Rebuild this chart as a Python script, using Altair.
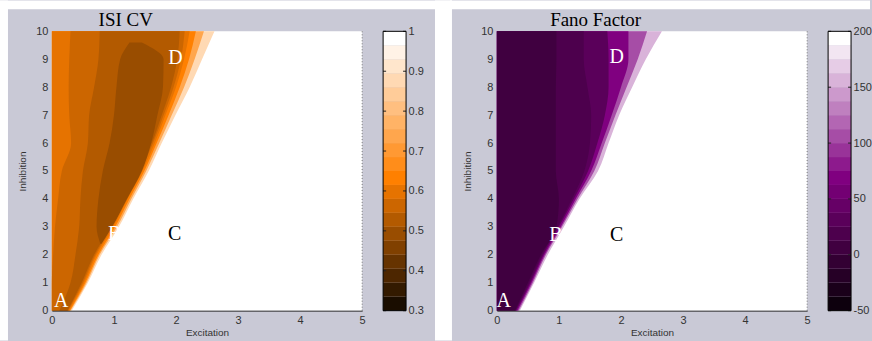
import altair as alt
import pandas as pd

# ---------------- data ----------------
inhibition = [0, 1, 2, 3, 4, 5, 6, 7, 8, 9, 10]
plot_left = [0, 0, 0, 0, 0, 0, 0, 0, 0, 0, 0]

# ISI CV: excitation value of each contour boundary at each inhibition level
isi_white_edge = [0.32, 0.58, 0.80, 1.08, 1.31, 1.56, 1.77, 1.99, 2.22, 2.42, 2.62]
isi_pale_edge = [0.30, 0.56, 0.77, 1.05, 1.28, 1.52, 1.73, 1.93, 2.13, 2.30, 2.45]
isi_orange_edge = [0.29, 0.54, 0.75, 1.02, 1.25, 1.49, 1.69, 1.88, 2.06, 2.21, 2.32]
isi_060_edge = [0.27, 0.52, 0.72, 0.99, 1.22, 1.46, 1.66, 1.83, 2.00, 2.13, 2.22]
isi_056_left = [0.00, 0.00, 0.02, 0.05, 0.10, 0.16, 0.31, 0.28, 0.27, 0.28, 0.30]
isi_056_right = [0.26, 0.50, 0.70, 0.97, 1.20, 1.43, 1.63, 1.80, 1.96, 2.08, 2.14]
isi_053_left = [0.12, 0.30, 0.38, 0.44, 0.46, 0.50, 0.58, 0.60, 0.68, 0.75, 0.77]
isi_053_right = [0.25, 0.48, 0.68, 0.95, 1.18, 1.41, 1.61, 1.77, 1.92, 2.02, 2.06]
isi_core_inh = [2.4, 3, 4, 5, 6, 7, 8, 9, 9.6]
isi_core_left = [0.78, 0.72, 0.75, 0.82, 0.93, 1.00, 1.04, 1.10, 1.25]
isi_core_right = [0.80, 0.97, 1.21, 1.45, 1.60, 1.70, 1.79, 1.80, 1.45]

# Fano factor boundaries
fano_white_edge = [0.37, 0.60, 0.82, 1.08, 1.33, 1.63, 1.80, 1.97, 2.18, 2.40, 2.66]
fano_pink_edge = [0.35, 0.58, 0.79, 1.05, 1.30, 1.57, 1.74, 1.91, 2.09, 2.27, 2.42]
fano_purple_edge = [0.33, 0.56, 0.77, 1.03, 1.27, 1.52, 1.69, 1.85, 2.00, 2.12, 2.12]
fano_mid_edge = [0.31, 0.54, 0.75, 1.00, 1.24, 1.47, 1.62, 1.74, 1.80, 1.80, 1.78]
fano_dim_edge = [0.30, 0.52, 0.73, 0.98, 1.21, 1.41, 1.50, 1.52, 1.46, 1.40, 1.40]
fano_dark_edge = [0.29, 0.50, 0.71, 0.96, 1.00, 0.95, 0.95, 0.95, 0.95, 0.96, 0.96]

# region letters
isi_white_letters = ["A", "B", "D"]
isi_white_x = [0.15, 1.01, 1.99]
isi_white_y = [0.36, 2.75, 9.05]
isi_black_letters = ["C"]
isi_black_x = [1.98]
isi_black_y = [2.75]

fano_white_letters = ["A", "B", "D"]
fano_white_x = [0.11, 0.95, 1.93]
fano_white_y = [0.36, 2.72, 9.08]
fano_black_letters = ["C"]
fano_black_x = [1.93]
fano_black_y = [2.72]

# axes ticks
excitation_ticks = [0, 1, 2, 3, 4, 5]
inhibition_ticks = [0, 1, 2, 3, 4, 5, 6, 7, 8, 9, 10]

# colour bars
isi_cb_edges = [0.3, 0.335, 0.37, 0.405, 0.44, 0.475, 0.51, 0.545, 0.58, 0.615, 0.65,
                0.685, 0.72, 0.755, 0.79, 0.825, 0.86, 0.895, 0.93, 0.965, 1.0]
isi_cb_ticks = [0.3, 0.4, 0.5, 0.6, 0.7, 0.8, 0.9, 1.0]
fano_cb_edges = [-50, -37.5, -25, -12.5, 0, 12.5, 25, 37.5, 50, 62.5, 75,
                 87.5, 100, 112.5, 125, 137.5, 150, 162.5, 175, 187.5, 200]
fano_cb_ticks = [-50, 0, 50, 100, 150, 200]

# ---------------- style ----------------
ISI_PALETTE = ["#1a0d00", "#331a00", "#4d2600", "#663300", "#804000", "#994d00",
               "#b35a00", "#cc6600", "#e67300", "#ff8000", "#ff8d1a", "#ff9933",
               "#ffa64d", "#ffb366", "#ffbf80", "#ffcc99", "#ffd9b3", "#ffe6cc",
               "#fff2e6", "#ffffff"]
FANO_PALETTE = ["#0d000d", "#1a001a", "#260026", "#330033", "#400040", "#4d004d",
                "#5a005a", "#660066", "#730073", "#800080", "#8d1a8d", "#993399",
                "#a64da6", "#b366b3", "#bf80bf", "#cc99cc", "#d9b3d9", "#e6cce6",
                "#f2e6f2", "#ffffff"]
GREY = "#c9c9d6"
FONT = "Liberation Sans"
SERIF = "Liberation Serif"
W, H = 311, 280

one = pd.DataFrame({"k": [0]})
xs = alt.Scale(domain=[0, 5], nice=False, zero=False)
ys = alt.Scale(domain=[0, 10], nice=False, zero=False)

x_axis = alt.Axis(title="Excitation", values=excitation_ticks, ticks=False, grid=False,
                  labelPadding=4, titlePadding=2, domainColor="#333333", domainWidth=1,
                  labelFontSize=11, titleFontSize=10, labelFlush=False, zindex=1,
                  labelExpr="'' + datum.value")
y_axis = alt.Axis(title="Inhibition", values=inhibition_ticks, ticks=False, grid=False,
                  domain=False, labelPadding=4, titlePadding=8, labelFontSize=11,
                  titleFontSize=10, labelFlush=False, zindex=1, labelExpr="'' + datum.value")


def band_layer(inh, left, right, color):
    df = pd.DataFrame({"inh": inh, "lo": left, "hi": right})
    return alt.Chart(df).mark_area(color=color, orient="horizontal", interpolate="monotone",
                                   opacity=1).encode(
        y=alt.Y("inh:Q", scale=ys, axis=y_axis),
        x=alt.X("lo:Q", scale=xs, stack=None, axis=x_axis),
        x2="hi:Q",
    )


def letters_layer(labels, lx, ly, color):
    df = pd.DataFrame({"t": labels, "ex": lx, "inh": ly})
    return alt.Chart(df).mark_text(font=SERIF, fontSize=20, color=color, align="center",
                                   baseline="middle").encode(
        x=alt.X("ex:Q", scale=xs, axis=x_axis),
        y=alt.Y("inh:Q", scale=ys, axis=y_axis),
        text="t:N")


def colorbar(edges, palette, ticks, key):
    df = pd.DataFrame({"lo": edges[:-1], "hi": edges[1:], key: list(range(len(palette)))})
    ysc = alt.Scale(domain=[edges[0], edges[-1]], nice=False, zero=False)
    cb_axis = alt.Axis(orient="right", offset=44, values=ticks, ticks=False, domain=False,
                       grid=False, labelPadding=2, title=None, labelFontSize=11,
                       labelExpr="'' + datum.value", labelFlush=False, zindex=1)
    rects = alt.Chart(df).mark_rect(strokeWidth=0).encode(
        x=alt.value(332), x2=alt.value(355),
        y=alt.Y("lo:Q", scale=ysc, axis=cb_axis),
        y2="hi:Q",
        color=alt.Color(f"{key}:O", scale=alt.Scale(domain=list(range(len(palette))), range=palette),
                        legend=None),
    )
    tdf = pd.DataFrame({"v": ticks})
    tl = alt.Chart(tdf).mark_rule(color="#222222", strokeWidth=1).encode(
        x=alt.value(332), x2=alt.value(335), y=alt.Y("v:Q", scale=ysc, axis=cb_axis))
    tr = alt.Chart(tdf).mark_rule(color="#222222", strokeWidth=1).encode(
        x=alt.value(352), x2=alt.value(355), y=alt.Y("v:Q", scale=ysc, axis=cb_axis))
    border = alt.Chart(one).mark_rect(fillOpacity=0, stroke="black", strokeWidth=1).encode(
        x=alt.value(332), x2=alt.value(355), y=alt.value(0), y2=alt.value(H))
    return alt.layer(rects, tl, tr, border)


def white_strip(x1, x2, y1, y2):
    return alt.Chart(one).mark_rect(color="white").encode(
        x=alt.value(x1), x2=alt.value(x2), y=alt.value(y1), y2=alt.value(y2))


def panel(title, title_x, strips, bands, wl, bl, cb):
    ttl = alt.Chart(one).mark_text(text=title, font=SERIF, fontSize=19, color="black",
                                   align="center", baseline="alphabetic").encode(
        x=alt.value(title_x), y=alt.value(-5))
    edge = alt.Chart(one).mark_rule(color="#777777", strokeDash=[1, 2]).encode(
        x=alt.value(W), y=alt.value(0), y2=alt.value(H))
    layers = [white_strip(*s) for s in strips] + [band_layer(*b) for b in bands] + [
        edge, ttl,
        letters_layer(*wl, "white"),
        letters_layer(*bl, "black"),
    ]
    main = alt.layer(*layers)
    return alt.layer(main, cb).resolve_scale(y="independent").properties(width=W, height=H)


isi_bands = [
    (inhibition, plot_left, isi_white_edge, ISI_PALETTE[16]),
    (inhibition, plot_left, isi_pale_edge, ISI_PALETTE[12]),
    (inhibition, plot_left, isi_orange_edge, ISI_PALETTE[9]),
    (inhibition, plot_left, isi_060_edge, ISI_PALETTE[8]),
    (inhibition, isi_056_left, isi_056_right, ISI_PALETTE[7]),
    (inhibition, isi_053_left, isi_053_right, ISI_PALETTE[6]),
    (isi_core_inh, isi_core_left, isi_core_right, ISI_PALETTE[5]),
]
fano_bands = [
    (inhibition, plot_left, fano_white_edge, FANO_PALETTE[16]),
    (inhibition, plot_left, fano_pink_edge, FANO_PALETTE[12]),
    (inhibition, plot_left, fano_purple_edge, FANO_PALETTE[9]),
    (inhibition, plot_left, fano_mid_edge, FANO_PALETTE[6]),
    (inhibition, plot_left, fano_dim_edge, FANO_PALETTE[5]),
    (inhibition, plot_left, fano_dark_edge, FANO_PALETTE[4]),
]

# white page margins around the two grey figure panels (pixel offsets from plot origin)
p1_strips = [(-52, -44, -31, H + 30), (-52, 401, -31, -22), (384, 401, -31, H + 30)]
p2_strips = [(-47, 374, -31, -22)]

p1 = panel("ISI CV", 74, p1_strips, isi_bands,
           (isi_white_letters, isi_white_x, isi_white_y),
           (isi_black_letters, isi_black_x, isi_black_y),
           colorbar(isi_cb_edges, ISI_PALETTE, isi_cb_ticks, "isi_level"))
p2 = panel("Fano Factor", 99, p2_strips, fano_bands,
           (fano_white_letters, fano_white_x, fano_white_y),
           (fano_black_letters, fano_black_x, fano_black_y),
           colorbar(fano_cb_edges, FANO_PALETTE, fano_cb_ticks, "fano_level"))

chart = alt.hconcat(p1, p2, spacing=135, bounds="flush").resolve_scale(
    color="independent", y="independent", x="independent"
).properties(
    padding={"left": 0, "top": 0, "right": 0, "bottom": 0}, background=GREY
).configure_view(strokeWidth=0, fill="white").configure_axis(
    labelFont=FONT, titleFont=FONT, labelColor="#333333", titleColor="#333333",
    titleFontWeight="normal"
)

chart.save("out.html", embed_options={"renderer": "svg", "actions": False})
